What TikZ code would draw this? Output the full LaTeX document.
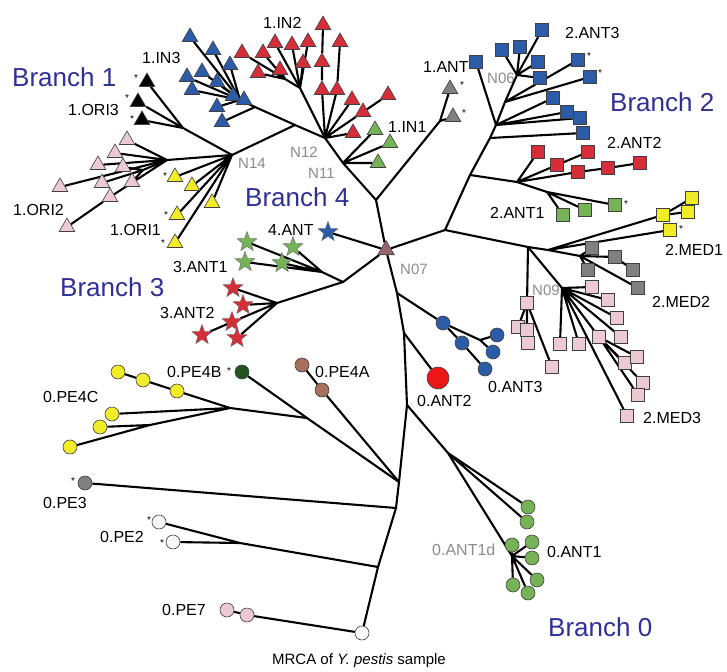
\documentclass[tikz,border=0pt]{standalone}
\usepackage{fontspec}
\setmainfont{Liberation Sans}
\usetikzlibrary{shapes.geometric,backgrounds}

\definecolor{cRed}{RGB}{214,46,56}
\definecolor{cBright}{RGB}{236,22,22}
\definecolor{cBlue}{RGB}{44,92,168}
\definecolor{cGreen}{RGB}{118,178,86}
\definecolor{cPink}{RGB}{236,202,212}
\definecolor{cYellow}{RGB}{240,236,40}
\definecolor{cGray}{RGB}{128,128,128}
\definecolor{cDkGreen}{RGB}{34,84,34}
\definecolor{cBrown}{RGB}{168,112,92}
\definecolor{cMauve}{RGB}{150,100,110}
\definecolor{cBranch}{RGB}{48,48,150}
\definecolor{cNode}{RGB}{140,140,140}

\begin{document}
\begin{tikzpicture}[x=1pt,y=-1pt,
  edge/.style={line width=2.1pt,black},
  tri/.style={regular polygon,regular polygon sides=3,fill=#1,draw=black!75,line width=0.6pt,minimum size=18pt,inner sep=0pt},
  sqr/.style={rectangle,fill=#1,draw=black!75,line width=0.6pt,minimum size=13pt,inner sep=0pt},
  dot/.style={circle,fill=#1,draw=black!75,line width=0.6pt,minimum size=14pt,inner sep=0pt},
  str/.style={star,star points=5,star point ratio=2.4,fill=#1,draw=black!60,line width=0.4pt,minimum size=21pt,inner sep=0pt},
  lab/.style={font=\fontsize{16}{16}\selectfont,inner sep=0pt,anchor=west},
  blab/.style={font=\fontsize{26}{26}\selectfont,text=cBranch,inner sep=0pt,anchor=west},
  nlab/.style={font=\fontsize{15}{15}\selectfont,text=cNode,inner sep=0pt,anchor=west},
  ast/.style={font=\fontsize{10}{10}\selectfont,inner sep=0pt},
]
\useasboundingbox (0,0) rectangle (727,671);

% ---------------- trunk and Branch 0 ----------------
\node[dot=white] (root) at (362,633) {};
\coordinate (T1) at (378,567);
\coordinate (T2) at (396,508);
\coordinate (T3) at (399,482);
\coordinate (T4) at (407,405);
\coordinate (T5) at (404,333);
\coordinate (T6) at (397,293);
\node[tri=cMauve,minimum size=19pt] (nd7) at (386,250) {};

\node[dot=cPink] (pe7a) at (227,610) {};
\node[dot=cPink] (pe7b) at (247,615) {};
\coordinate (jpe2) at (240,543);
\node[dot=white!94!gray] (pe2a) at (159,522) {};
\node[dot=white!94!gray] (pe2b) at (173,542) {};
\node[dot=cGray] (pe3) at (85,483) {};
\node[dot=cBrown] (pe4a1) at (302,365) {};
\node[dot=cBrown] (pe4a2) at (322,390) {};
\coordinate (J4) at (307,418);
\node[dot=cDkGreen] (pe4b) at (242,372) {};
\coordinate (J4C) at (230,408);
\coordinate (J4D) at (150,425);
\node[dot=cYellow] (pe4c1) at (118,372) {};
\node[dot=cYellow] (pe4c2) at (143,380) {};
\node[dot=cYellow] (pe4c3) at (177,391) {};
\node[dot=cYellow] (pe4c4) at (112,414) {};
\node[dot=cYellow] (pe4c5) at (100,427) {};
\node[dot=cYellow] (pe4c6) at (70,447) {};

\coordinate (A1j) at (448,453);
\coordinate (A1k) at (512,556);
\node[dot=cGreen] (a1) at (528,507) {};
\node[dot=cGreen] (a2) at (527,522) {};
\node[dot=cGreen] (a1d) at (512,545) {};
\node[dot=cGreen] (a3) at (532,542) {};
\node[dot=cGreen] (a4) at (532,558) {};
\node[dot=cGreen] (a5) at (537,580) {};
\node[dot=cGreen] (a6) at (513,585) {};
\node[dot=cGreen] (a7) at (528,593) {};

\node[dot=cBright,minimum size=22pt] (ant2) at (438,378) {};

\coordinate (A3j) at (480,340);
\node[dot=cBlue] (a3a) at (443,323) {};
\node[dot=cBlue] (a3b) at (462,343) {};
\node[dot=cBlue] (a3c) at (497,335) {};
\node[dot=cBlue] (a3d) at (493,352) {};
\node[dot=cBlue] (a3e) at (485,369) {};

% ---------------- Branches 3 and 4 ----------------
\node[str=cBlue] (s4ant) at (328,232) {};
\coordinate (B3) at (343,282);
\coordinate (G1) at (322,272);
\node[str=cGreen] (g3a) at (247,242) {};
\node[str=cGreen] (g3b) at (245,262) {};
\node[str=cGreen] (g3c) at (293,247) {};
\node[str=cGreen] (g3d) at (282,263) {};
\coordinate (G2) at (277,303);
\node[str=cRed] (t1) at (233,288) {};
\node[str=cRed] (t2) at (243,305) {};
\node[str=cRed] (t3) at (232,322) {};
\node[str=cRed] (t4) at (202,335) {};
\node[str=cRed] (t5) at (237,338) {};

% ---------------- Branch 1 ----------------
\coordinate (J1) at (376,200);
\coordinate (K) at (440,121);
\node[tri=cGray] (ant1a) at (450,89) {};
\node[tri=cGray] (ant1b) at (453,117) {};
\coordinate (N11) at (343,163);
\node[tri=cGreen] (in1a) at (375,130) {};
\node[tri=cGreen] (in1b) at (390,143) {};
\node[tri=cGreen] (in1c) at (378,163) {};
\coordinate (N12) at (325,138);
\coordinate (Q) at (300,88);
\coordinate (Q1) at (285,79);
\node[tri=cRed] (r1) at (242,53) {};
\node[tri=cRed] (r2) at (263,53) {};
\node[tri=cRed] (r3) at (258,73) {};
\node[tri=cRed] (r4) at (275,43) {};
\node[tri=cRed] (r5) at (280,70) {};
\node[tri=cRed] (r6) at (292,45) {};
\node[tri=cRed] (r7) at (303,63) {};
\node[tri=cRed] (r8) at (308,42) {};
\node[tri=cRed] (r9) at (322,62) {};
\node[tri=cRed] (r10) at (323,25) {};
\node[tri=cRed] (r11) at (340,42) {};
\node[tri=cRed] (r12) at (322,90) {};
\node[tri=cRed] (r13) at (337,90) {};
\node[tri=cRed] (r14) at (352,100) {};
\node[tri=cRed] (r15) at (363,112) {};
\node[tri=cRed] (r16) at (388,95) {};
\node[tri=cRed] (r17) at (353,133) {};
\coordinate (J2) at (295,125);
\coordinate (H2) at (255,107);
\coordinate (H) at (240,100);
\node[tri=cBlue] (b1) at (190,37) {};
\node[tri=cBlue] (b2) at (213,50) {};
\node[tri=cBlue] (b3) at (230,65) {};
\node[tri=cBlue] (b4) at (187,77) {};
\node[tri=cBlue] (b5) at (202,72) {};
\node[tri=cBlue] (b6) at (217,82) {};
\node[tri=cBlue] (b7) at (192,90) {};
\node[tri=cBlue] (b8) at (233,96) {};
\node[tri=cBlue] (b9) at (244,100) {};
\node[tri=cBlue] (b10) at (217,107) {};
\node[tri=cBlue] (b11) at (222,122) {};
\coordinate (N14) at (232,155);
\coordinate (O3) at (183,128);
\node[tri=black] (k1) at (147,82) {};
\node[tri=black] (k2) at (138,102) {};
\node[tri=black] (k3) at (142,120) {};
\coordinate (P1) at (167,160);
\coordinate (P2) at (143,170);
\node[tri=cPink] (p1) at (127,140) {};
\node[tri=cPink] (p2) at (115,153) {};
\node[tri=cPink] (p3) at (98,165) {};
\node[tri=cPink] (p4) at (123,167) {};
\node[tri=cPink] (p5) at (102,183) {};
\node[tri=cPink] (p6) at (132,182) {};
\node[tri=cPink] (p7) at (110,197) {};
\node[tri=cPink] (p8) at (60,187) {};
\node[tri=cPink] (p9) at (67,227) {};
\node[tri=cYellow] (y1) at (175,177) {};
\node[tri=cYellow] (y2) at (192,186) {};
\node[tri=cYellow] (y3) at (212,203) {};
\node[tri=cYellow] (y4) at (177,215) {};
\node[tri=cYellow] (y5) at (175,243) {};

% ---------------- Branch 2 ----------------
\coordinate (J3) at (445,230);
\coordinate (S1) at (470,175);
\coordinate (S2) at (490,138);
\coordinate (S3) at (496,125);
\coordinate (S4) at (505,102);
\coordinate (N06) at (517,75);
\node[sqr=cBlue] (sqtop) at (542,30) {};
\node[sqr=cBlue] (v0) at (476,62) {};
\node[sqr=cBlue] (v1) at (502,50) {};
\node[sqr=cBlue] (v2) at (520,47) {};
\node[sqr=cBlue] (v3) at (538,62) {};
\node[sqr=cBlue] (v4) at (540,78) {};
\node[sqr=cBlue] (v5) at (578,60) {};
\node[sqr=cBlue] (v6) at (590,77) {};
\node[sqr=cBlue] (u1) at (553,98) {};
\node[sqr=cBlue] (u2) at (567,112) {};
\node[sqr=cBlue] (u3) at (580,118) {};
\node[sqr=cBlue] (u4) at (583,133) {};
\coordinate (A) at (517,182);
\node[sqr=cRed] (q1) at (538,152) {};
\node[sqr=cRed] (q2) at (557,165) {};
\node[sqr=cRed] (q3) at (578,172) {};
\node[sqr=cRed] (q4) at (588,152) {};
\node[sqr=cRed] (q5) at (608,168) {};
\node[sqr=cRed] (q6) at (640,163) {};
\coordinate (G) at (547,192);
\node[sqr=cGreen] (g1) at (563,215) {};
\node[sqr=cGreen] (g2) at (585,210) {};
\node[sqr=cGreen] (g3) at (615,205) {};

\coordinate (M0) at (528,247);
\coordinate (M1) at (548,250);
\node[sqr=cYellow] (ya) at (663,215) {};
\node[sqr=cYellow] (yb) at (692,198) {};
\node[sqr=cYellow] (yc) at (688,212) {};
\node[sqr=cYellow] (yd) at (670,230) {};
\coordinate (M2) at (580,256);
\node[sqr=cGray] (gm1) at (592,248) {};
\node[sqr=cGray] (gm2) at (615,257) {};
\node[sqr=cGray] (gm3) at (633,270) {};
\node[sqr=cGray] (gm4) at (588,270) {};
\node[sqr=cGray] (gm5) at (638,288) {};
\coordinate (N09) at (562,288);
\node[sqr=cPink] (pk1) at (527,303) {};
\node[sqr=cPink] (pk2) at (518,327) {};
\node[sqr=cPink] (pk3) at (527,330) {};
\node[sqr=cPink] (pk4) at (528,343) {};
\node[sqr=cPink] (pk5) at (552,367) {};
\node[sqr=cPink] (n1) at (592,287) {};
\node[sqr=cPink] (n2) at (608,300) {};
\node[sqr=cPink] (n3) at (617,318) {};
\node[sqr=cPink] (n4) at (621,337) {};
\node[sqr=cPink] (n5) at (560,344) {};
\node[sqr=cPink] (n6) at (579,344) {};
\node[sqr=cPink] (nj) at (599,337) {};
\node[sqr=cPink] (n7) at (625,363) {};
\node[sqr=cPink] (n8) at (637,357) {};
\node[sqr=cPink] (n9) at (643,383) {};
\node[sqr=cPink] (n10) at (638,395) {};
\node[sqr=cPink] (n11) at (627,416) {};

% ---------------- branches, drawn under the symbols ----------------
\begin{scope}[on background layer]
\fill[white] (0,0) rectangle (727,671);
\node[nlab] (lN06) at (487,78) {N06};
\node[nlab] (lN09) at (532,290) {N09};
% trunk
\draw[edge] (root) -- (T1) -- (T2) -- (T3) -- (T4) -- (T5) -- (T6) -- (nd7);
\draw[edge] (root) -- (pe7b) -- (pe7a);
\draw[edge] (T1) -- (jpe2) -- (pe2a) (jpe2) -- (pe2b);
\draw[edge] (T2) -- (pe3);
\draw[edge] (T3) -- (pe4a2) -- (pe4a1);
\draw[edge] (T3) -- (J4) -- (pe4b);
\draw[edge] (J4) -- (J4C) -- (pe4c3) -- (pe4c2) -- (pe4c1);
\draw[edge] (J4C) -- (pe4c4) (J4C) -- (J4D) -- (pe4c5) (J4D) -- (pe4c6);
\draw[edge] (T4) -- (A1j) -- (a1) (A1j) -- (a2) (A1j) -- (A1k);
\draw[edge] (A1k) -- (a1d) (A1k) -- (a3) (A1k) -- (a4) (A1k) -- (a5) (A1k) -- (a6) (A1k) -- (a7);
\draw[edge] (T5) -- (ant2);
\draw[edge] (T6) -- (a3a) -- (A3j) -- (a3c) (A3j) -- (a3d) (a3a) -- (a3b) -- (a3e);
% Branches 3 and 4
\draw[edge] (nd7) -- (s4ant);
\draw[edge] (nd7) -- (B3) -- (G1) -- (g3a) (G1) -- (g3b) (G1) -- (g3c) (G1) -- (g3d);
\draw[edge] (B3) -- (G2) -- (t1) (G2) -- (t2) (G2) -- (t3) -- (t4) (G2) -- (t5);
% Branch 1
\draw[edge] (nd7) -- (J1) -- (K) -- (ant1a) (K) -- (ant1b);
\draw[edge] (J1) -- (N11) -- (in1a) (N11) -- (in1b) (N11) -- (in1c);
\draw[edge] (N11) -- (N12);
\draw[edge] (N12) -- (Q) -- (Q1) -- (r1) (Q1) -- (r2) (Q1) -- (r3) (Q1) -- (r5);
\draw[edge] (Q) -- (r4) (Q) -- (r6) (Q) -- (r7) (Q) -- (r8);
\draw[edge] (N12) -- (r12) -- (r9) -- (r10) (N12) -- (r13) -- (r11);
\draw[edge] (N12) -- (r14) (N12) -- (r15) -- (r16) (N12) -- (r17);
\draw[edge] (N12) -- (J2) -- (H2) -- (H) (H2) -- (b11);
\draw[edge] (H) -- (b1) (H) -- (b2) (H) -- (b3) (H) -- (b4) (H) -- (b5) (H) -- (b6) (H) -- (b7) (H) -- (b10);
\draw[edge] (J2) -- (N14);
\draw[edge] (N14) -- (O3) -- (k1) (O3) -- (k2) (O3) -- (k3);
\draw[edge] (N14) -- (P1) -- (p1) (P1) -- (p2) (P1) -- (p3) (P1) -- (p8);
\draw[edge] (P1) -- (P2) -- (p4) (P2) -- (p5) (P2) -- (p6) (P1) -- (p7) -- (p9);
\draw[edge] (N14) -- (y1) (N14) -- (y2) (N14) -- (y3) (N14) -- (y4) (N14) -- (y5);
% Branch 2
\draw[edge] (nd7) -- (J3) -- (S1) -- (S2) -- (S3) -- (S4) -- (N06) -- (sqtop);
\draw[edge] (N06) -- (v1) (N06) -- (v2) (N06) -- (v3) (N06) -- (v4);
\draw[edge] (S3) -- (v0) (S4) -- (v5) (S4) -- (v6);
\draw[edge] (S3) -- (u1) (S3) -- (u2) (S3) -- (u3) (S2) -- (u4);
\draw[edge] (S1) -- (A) -- (q1) (A) -- (q2) -- (q4) (A) -- (q3) -- (q5) -- (q6);
\draw[edge] (A) -- (G) -- (g1) (G) -- (g2) (G) -- (g3);
\draw[edge] (J3) -- (M0) -- (M1);
\draw[edge] (M1) -- (ya) -- (yb) (ya) -- (yc) (M1) -- (yd);
\draw[edge] (M1) -- (M2) -- (gm1) (M2) -- (gm2) -- (gm3) (M2) -- (gm4) (M2) -- (gm5);
\draw[edge] (M0) -- (pk1) -- (pk2) (pk1) -- (pk3) -- (pk4) (pk1) -- (pk5);
\draw[edge] (M0) -- (N09);
\draw[edge] (N09) -- (n1) (N09) -- (n2) (N09) -- (n3) (N09) -- (n4) (N09) -- (n5) (N09) -- (n6) (N09) -- (nj) (N09) -- (n11);
\draw[edge] (nj) -- (n7) (nj) -- (n8) (nj) -- (n9) (nj) -- (n10);
\end{scope}

% ---------------- labels ----------------
\node[blab] (lb1) at (12,77) {Branch 1};
\node[blab] (lb2) at (610,102) {Branch 2};
\node[blab] (lb3) at (60,287) {Branch 3};
\node[blab] (lb4) at (245,197) {Branch 4};
\node[blab] (lb0) at (548,627) {Branch 0};

\node[lab] (l1) at (263,23) {1.IN2};
\node[lab] (l2) at (142,58) {1.IN3};
\node[lab] (l3) at (68,110) {1.ORI3};
\node[lab] (l4) at (13,210) {1.ORI2};
\node[lab] (l5) at (110,230) {1.ORI1};
\node[lab] (l6) at (388,127) {1.IN1};
\node[lab] (l7) at (423,67) {1.ANT};
\node[lab] (l8) at (565,33) {2.ANT3};
\node[lab] (l9) at (607,143) {2.ANT2};
\node[lab] (l10) at (490,213) {2.ANT1};
\node[lab] (l11) at (665,250) {2.MED1};
\node[lab] (l12) at (652,302) {2.MED2};
\node[lab] (l13) at (643,418) {2.MED3};
\node[lab] (l14) at (488,387) {0.ANT3};
\node[lab] (l15) at (417,401) {0.ANT2};
\node[lab,text=cNode] (l16) at (432,550) {0.ANT1d};
\node[lab] (l17) at (547,552) {0.ANT1};
\node[lab] (l18) at (162,610) {0.PE7};
\node[lab] (l19) at (100,537) {0.PE2};
\node[lab] (l20) at (43,503) {0.PE3};
\node[lab] (l21) at (43,397) {0.PE4C};
\node[lab] (l22) at (167,372) {0.PE4B};
\node[lab] (l23) at (315,372) {0.PE4A};
\node[lab] (l24) at (268,230) {4.ANT};
\node[lab] (l25) at (173,267) {3.ANT1};
\node[lab] (l26) at (160,313) {3.ANT2};
\node[lab,anchor=center,font=\fontsize{15}{15}\selectfont] (l27) at (359,661) {MRCA of \textit{Y. pestis} sample};

\node[nlab] (lN14) at (238,163) {N14};
\node[nlab] (lN12) at (290,152) {N12};
\node[nlab] (lN11) at (308,173) {N11};
\node[nlab] (lN07) at (400,269) {N07};

% asterisks beside marked isolates
\node[ast] (x1) at (136,78) {*};
\node[ast] (x2) at (127,98) {*};
\node[ast] (x3) at (132,119) {*};
\node[ast] (x4) at (165,176) {*};
\node[ast] (x5) at (166,215) {*};
\node[ast] (x6) at (163,243) {*};
\node[ast] (x7) at (462,85) {*};
\node[ast] (x8) at (464,113) {*};
\node[ast] (x9) at (589,56) {*};
\node[ast] (x10) at (600,73) {*};
\node[ast] (x11) at (626,204) {*};
\node[ast] (x12) at (681,229) {*};
\node[ast] (x13) at (73,481) {*};
\node[ast] (x14) at (149,520) {*};
\node[ast] (x15) at (162,543) {*};
\node[ast] (x16) at (229,371) {*};
\end{tikzpicture}
\end{document}
